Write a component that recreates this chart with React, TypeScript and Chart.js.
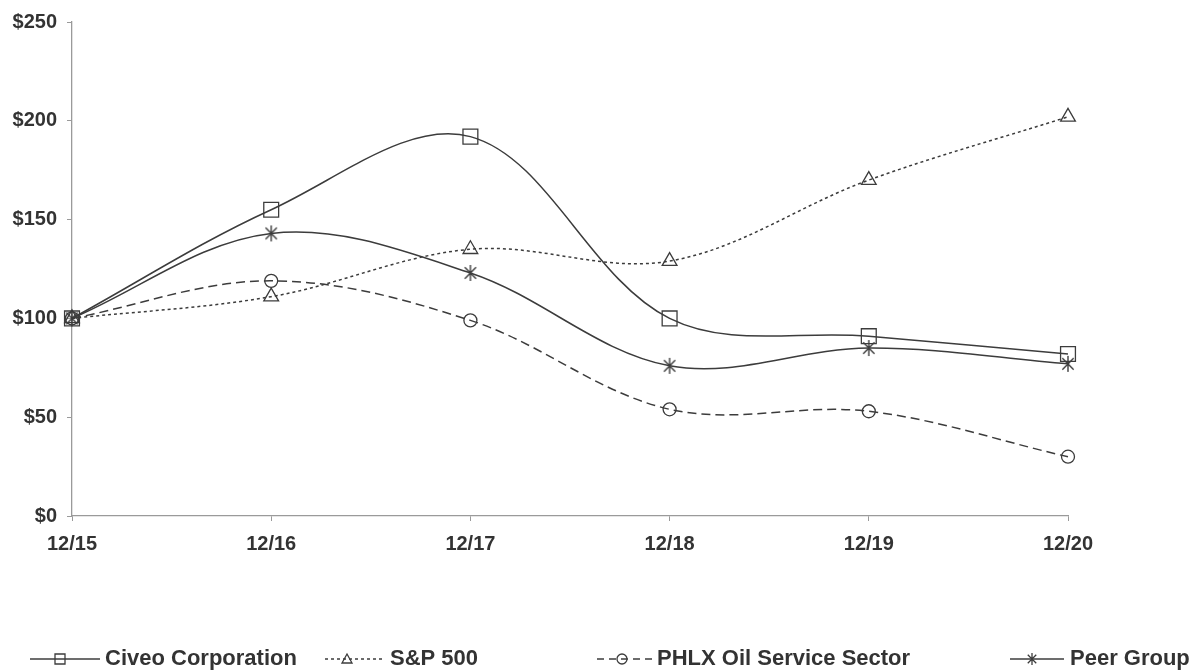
import React, { useEffect, useRef } from "react";
import { Chart, registerables } from "chart.js";

Chart.register(...registerables);

const categories = ["12/15", "12/16", "12/17", "12/18", "12/19", "12/20"];
const civeo = [100, 155, 192, 100, 91, 82];
const sp500 = [100, 111, 135, 129, 170, 202];
const phlx = [100, 119, 99, 54, 53, 30];
const peer = [100, 143, 123, 76, 85, 77];
const yTicks = [0, 50, 100, 150, 200, 250];

const seriesNames = ["Civeo Corporation", "S&P 500", "PHLX Oil Service Sector", "Peer Group"];
const LINE = "#3c3c3c";
const AXIS = "#9a9a9a";
const TEXT = "#333333";
const FONT = "'Liberation Sans', Arial, sans-serif";

function drawStar(ctx: CanvasRenderingContext2D, x: number, y: number, r: number) {
  const d = r * Math.SQRT1_2;
  ctx.beginPath();
  ctx.moveTo(x, y - r);
  ctx.lineTo(x, y + r);
  ctx.moveTo(x - d, y - d);
  ctx.lineTo(x + d, y + d);
  ctx.moveTo(x - d, y + d);
  ctx.lineTo(x + d, y - d);
  ctx.stroke();
}

function makeStarCanvas(r: number): HTMLCanvasElement {
  const s = Math.ceil(r * 2 + 4);
  const c = document.createElement("canvas");
  c.width = s;
  c.height = s;
  const ctx = c.getContext("2d")!;
  ctx.strokeStyle = LINE;
  ctx.lineWidth = 1.4;
  drawStar(ctx, s / 2, s / 2, r);
  return c;
}

function drawMarker(ctx: CanvasRenderingContext2D, style: string, x: number, y: number, r: number) {
  ctx.save();
  ctx.setLineDash([]);
  ctx.lineWidth = 1.3;
  ctx.strokeStyle = LINE;
  ctx.beginPath();
  if (style === "rect") {
    ctx.rect(x - r, y - r, 2 * r, 2 * r);
    ctx.stroke();
  } else if (style === "triangle") {
    ctx.moveTo(x, y - r);
    ctx.lineTo(x + r, y + r * 0.8);
    ctx.lineTo(x - r, y + r * 0.8);
    ctx.closePath();
    ctx.stroke();
  } else if (style === "circle") {
    ctx.arc(x, y, r, 0, Math.PI * 2);
    ctx.stroke();
  } else {
    drawStar(ctx, x, y, r);
  }
  ctx.restore();
}

const legendItems = [
  { name: seriesNames[0], style: "rect", dash: [] as number[], x0: 30, x1: 100, mx: 60, tx: 105, r: 5 },
  { name: seriesNames[1], style: "triangle", dash: [3, 3], x0: 325, x1: 384, mx: 347, tx: 390, r: 5 },
  { name: seriesNames[2], style: "circle", dash: [7, 5], x0: 597, x1: 652, mx: 622, tx: 657, r: 5 },
  { name: seriesNames[3], style: "star", dash: [] as number[], x0: 1010, x1: 1064, mx: 1032, tx: 1070, r: 6 },
];

const legendPlugin = {
  id: "customLegend",
  afterDraw(chart: any) {
    const ctx = chart.ctx as CanvasRenderingContext2D;
    const y = 659;
    ctx.save();
    legendItems.forEach((it) => {
      ctx.strokeStyle = LINE;
      ctx.lineWidth = 1.5;
      ctx.setLineDash(it.dash);
      ctx.beginPath();
      ctx.moveTo(it.x0, y);
      ctx.lineTo(it.x1, y);
      ctx.stroke();
      drawMarker(ctx, it.style, it.mx, y, it.r);
      ctx.setLineDash([]);
      ctx.fillStyle = TEXT;
      ctx.font = `bold 22px ${FONT}`;
      ctx.textAlign = "left";
      ctx.textBaseline = "middle";
      ctx.fillText(it.name, it.tx, y);
    });
    ctx.restore();
  },
};

export default function App() {
  const ref = useRef<HTMLCanvasElement>(null);
  useEffect(() => {
    if (!ref.current) return;
    const common = {
      borderColor: LINE,
      borderWidth: 1.5,
      tension: 0.35,
      pointBorderColor: LINE,
      pointBackgroundColor: "rgba(0,0,0,0)",
      pointBorderWidth: 1.3,
      fill: false,
    };
    const star = makeStarCanvas(8);
    const chart = new Chart(ref.current, {
      type: "line",
      data: {
        labels: categories,
        datasets: [
          { ...common, label: seriesNames[0], data: civeo, pointStyle: "rect", pointRadius: 10.5 },
          { ...common, label: seriesNames[1], data: sp500, pointStyle: "triangle", pointRadius: 8.5, borderDash: [3, 3] },
          { ...common, label: seriesNames[2], data: phlx, pointStyle: "circle", pointRadius: 6.5, borderDash: [9, 5] },
          { ...common, label: seriesNames[3], data: peer, pointStyle: star, pointRadius: 8 },
        ],
      },
      options: {
        animation: false,
        responsive: true,
        maintainAspectRatio: false,
        layout: { padding: { top: 22, right: 131, left: 0, bottom: 0 } },
        plugins: { legend: { display: false }, tooltip: { enabled: false } },
        scales: {
          x: {
            type: "category",
            offset: false,
            grid: { drawOnChartArea: false, color: AXIS, tickLength: 5 },
            border: { color: AXIS, width: 1.3 },
            ticks: { color: TEXT, padding: 11, maxRotation: 0, font: { family: FONT, size: 20, weight: "bold" } },
            afterFit: (s: any) => { s.height = 155; },
          },
          y: {
            min: 0,
            max: 250,
            afterBuildTicks: (s: any) => { s.ticks = yTicks.map((v) => ({ value: v })); },
            grid: { drawOnChartArea: false, color: AXIS, tickLength: 5 },
            border: { color: AXIS, width: 1.3 },
            ticks: { color: TEXT, padding: 10, font: { family: FONT, size: 20, weight: "bold" }, callback: (v: any) => "$" + v },
            afterFit: (s: any) => { s.width = 72; },
          },
        },
      },
      plugins: [legendPlugin],
    } as any);
    return () => chart.destroy();
  }, []);
  return (
    <div style={{ position: "absolute", left: 0, top: 0, width: 1199, height: 671, background: "#fff" }}>
      <canvas ref={ref} />
    </div>
  );
}
